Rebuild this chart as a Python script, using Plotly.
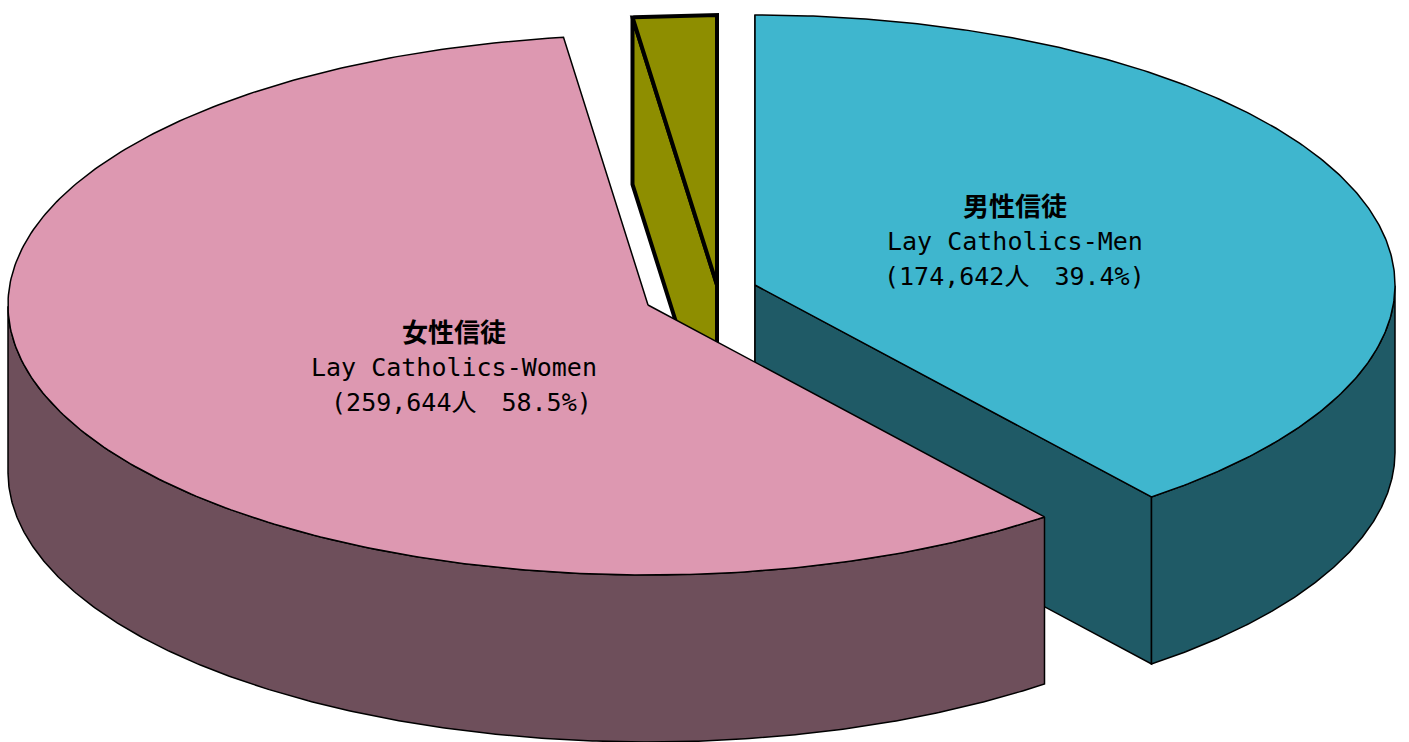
import numpy as np
import plotly.graph_objects as go

# ---------------- data ----------------
names_jp = ["男性信徒", "女性信徒", "その他"]
names_en = ["Lay Catholics-Men", "Lay Catholics-Women", "Others"]
values = [174642, 259644, 9350]
show_label = [True, True, False]

# ---------------- style ----------------
top_colors = ["#3FB6CE", "#DD98B1", "#8E8E00"]
side_colors = ["#1F5A66", "#6E4F5B", "#8E8E00"]
explode = [(107, -20), (0, 0), (69, -20)]       # pixel offsets of exploded slices
edge_width = [1.5, 1.5, 4.0]
label_frac = [0.43, 0.33, 0.0]
label_yshift = [5, -28, 0]
label_prefix = ["", " ", ""]
draw_order = [2, 0, 1]
LINE_GAP = 35

W, H = 1409, 742
CX, CY = 648, 305        # pie centre
RX, RY = 640, 270        # ellipse radii of top face
DEPTH = 167              # thickness of the pie
START = 90.0             # start angle (deg), clockwise

total = float(sum(values))
fracs = [v / total for v in values]
bounds = []
a = START
for f in fracs:
    bounds.append((a, a - 360 * f))
    a -= 360 * f


def pt(cx, cy, ang, dy=0.0):
    r = np.radians(ang)
    return cx + RX * np.cos(r), cy - RY * np.sin(r) + dy


def arc(cx, cy, a0, a1, n=200, dy=0.0):
    angs = np.linspace(a0, a1, n)
    r = np.radians(angs)
    return list(cx + RX * np.cos(r)), list(cy - RY * np.sin(r) + dy), angs


fig = go.Figure()


def poly(xs, ys, fill, lw):
    fig.add_trace(go.Scatter(
        x=xs + [xs[0]], y=ys + [ys[0]], mode="lines", fill="toself",
        fillcolor=fill, line=dict(color="black", width=lw),
        hoverinfo="skip", showlegend=False))


for i in draw_order:
    a0, a1 = bounds[i]
    cx = CX + explode[i][0]
    cy = CY + explode[i][1]
    lw = edge_width[i]
    # radial faces (visible or edge-on)
    for ang, sgn in ((a0, -1), (a1, 1)):
        c = np.cos(np.radians(ang))
        if sgn * c >= -1e-9:
            px, py = pt(cx, cy, ang)
            poly([cx, px, px, cx], [cy, py, py + DEPTH, cy + DEPTH], side_colors[i], lw)
    # outer wall (front part only)
    xs, ys, angs = arc(cx, cy, a0, a1, n=600)
    front = np.sin(np.radians(angs)) <= 1e-9
    runs = []
    cur = []
    for k, fl in enumerate(front):
        if fl:
            cur.append(k)
        elif cur:
            runs.append(cur)
            cur = []
    if cur:
        runs.append(cur)
    for run in runs:
        if len(run) < 2:
            continue
        tx = [xs[k] for k in run]
        ty = [ys[k] for k in run]
        bx = tx[::-1]
        by = [y + DEPTH for y in ty[::-1]]
        poly(tx + bx, ty + by, side_colors[i], lw)
    # top face
    tx, ty, _ = arc(cx, cy, a0, a1, n=300)
    poly([cx] + tx, [cy] + ty, top_colors[i], lw)

# labels
font_family = "DejaVu Sans Mono, Noto Sans CJK JP"
for i in range(len(values)):
    if not show_label[i]:
        continue
    a0, a1 = bounds[i]
    mid = (a0 + a1) / 2
    cx = CX + explode[i][0]
    cy = CY + explode[i][1]
    lx = cx + label_frac[i] * RX * np.cos(np.radians(mid))
    ly = cy - label_frac[i] * RY * np.sin(np.radians(mid))
    lines = [
        (f"<b>{names_jp[i]}</b>", 26),
        (names_en[i], 25),
        (f"{label_prefix[i]}({values[i]:,}人　{fracs[i]*100:.1f}%)", 25),
    ]
    for k, (txt, fs) in enumerate(lines):
        fig.add_annotation(x=lx, y=ly, xref="x", yref="y", text=txt, showarrow=False,
                           yshift=label_yshift[i] - (k - 1) * LINE_GAP,
                           font=dict(family=font_family, size=fs, color="black"))

fig.update_layout(
    width=W, height=H, autosize=False,
    margin=dict(l=0, r=0, t=0, b=0),
    paper_bgcolor="white", plot_bgcolor="white",
    xaxis=dict(visible=False, range=[0, W], fixedrange=True),
    yaxis=dict(visible=False, range=[H, 0], fixedrange=True),
)

fig.write_html("out.html", config={"displayModeBar": False},
               post_script="document.body.style.margin='0';document.body.style.overflow='hidden';")
